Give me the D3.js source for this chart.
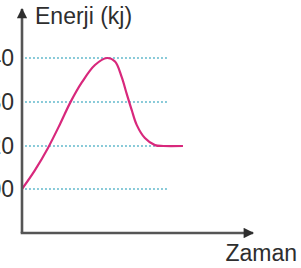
<!DOCTYPE html>
<html>
<head>
<meta charset="utf-8">
<script src="https://cdn.jsdelivr.net/npm/d3@7"></script>
<style>
  html, body { margin: 0; padding: 0; background: #fff; }
  svg { display: block; }
  text { font-family: "Liberation Sans", Arial, sans-serif; fill: #2e2e2e; }
</style>
</head>
<body>
<div id="chart"></div>
<script>
// values
const tickLabels = ["100", "120", "130", "140"];
const time = [0, 0.57, 1.14, 1.67, 2.11, 2.63, 3.2, 3.73, 4.08, 4.37, 4.59, 4.81, 5.03, 5.39, 5.83, 6.2, 7.06];
const energy = [100, 108.8, 119.1, 125, 129.8, 134.5, 138.4, 140, 139.2, 135.7, 131.9, 128.2, 124.8, 121.8, 120.2, 120, 120];

const width = 301, height = 268;
const svg = d3.select("#chart").append("svg")
  .attr("width", width).attr("height", height);

const x = d3.scaleLinear().domain([0, 10]).range([22, 250]);
// levels are drawn evenly spaced, not to scale
const y = d3.scaleLinear().domain([100, 120, 130, 140]).range([189, 146, 102, 58]);

// dotted guide lines
svg.append("g")
  .selectAll("line")
  .data(tickLabels)
  .join("line")
  .attr("x1", x(0.13)).attr("x2", x(6.4))
  .attr("y1", d => y(+d)).attr("y2", d => y(+d))
  .attr("stroke", "#62b9cc")
  .attr("stroke-width", 1.3)
  .attr("stroke-dasharray", "2,2");

// tick labels, cut off by the left edge like the original
svg.append("g")
  .selectAll("text")
  .data(tickLabels)
  .join("text")
  .attr("x", 14)
  .attr("y", d => y(+d))
  .attr("dy", "0.36em")
  .attr("text-anchor", "end")
  .attr("font-size", 23)
  .text(d => d);

// curve
const line = d3.line()
  .x((d, i) => x(time[i]))
  .y(d => y(d))
  .curve(d3.curveCatmullRom.alpha(0.5));

svg.append("path")
  .datum(energy)
  .attr("d", line)
  .attr("fill", "none")
  .attr("stroke", "#d8287c")
  .attr("stroke-width", 2.2);

// axes with arrows
svg.append("defs").append("marker")
  .attr("id", "arrow")
  .attr("viewBox", "0 0 10 10")
  .attr("refX", 9).attr("refY", 5)
  .attr("markerWidth", 5).attr("markerHeight", 4)
  .attr("markerUnits", "strokeWidth")
  .attr("orient", "auto")
  .append("path")
  .attr("d", "M0,0L10,5L0,10z")
  .attr("fill", "#2e2e2e");

const axisY = 233;
svg.append("path")
  .attr("d", `M${x(0)},${axisY}V9`)
  .attr("stroke", "#555").attr("stroke-width", 2.6).attr("fill", "none")
  .attr("marker-end", "url(#arrow)");
svg.append("path")
  .attr("d", `M${x(0) - 1.3},${axisY}H253`)
  .attr("stroke", "#555").attr("stroke-width", 2.6).attr("fill", "none")
  .attr("marker-end", "url(#arrow)");

svg.append("text")
  .attr("x", 35).attr("y", 24)
  .attr("font-size", 23)
  .text("Enerji (kj)");

svg.append("text")
  .attr("x", 297).attr("y", 261)
  .attr("text-anchor", "end")
  .attr("font-size", 23)
  .text("Zaman");
</script>
</body>
</html>
